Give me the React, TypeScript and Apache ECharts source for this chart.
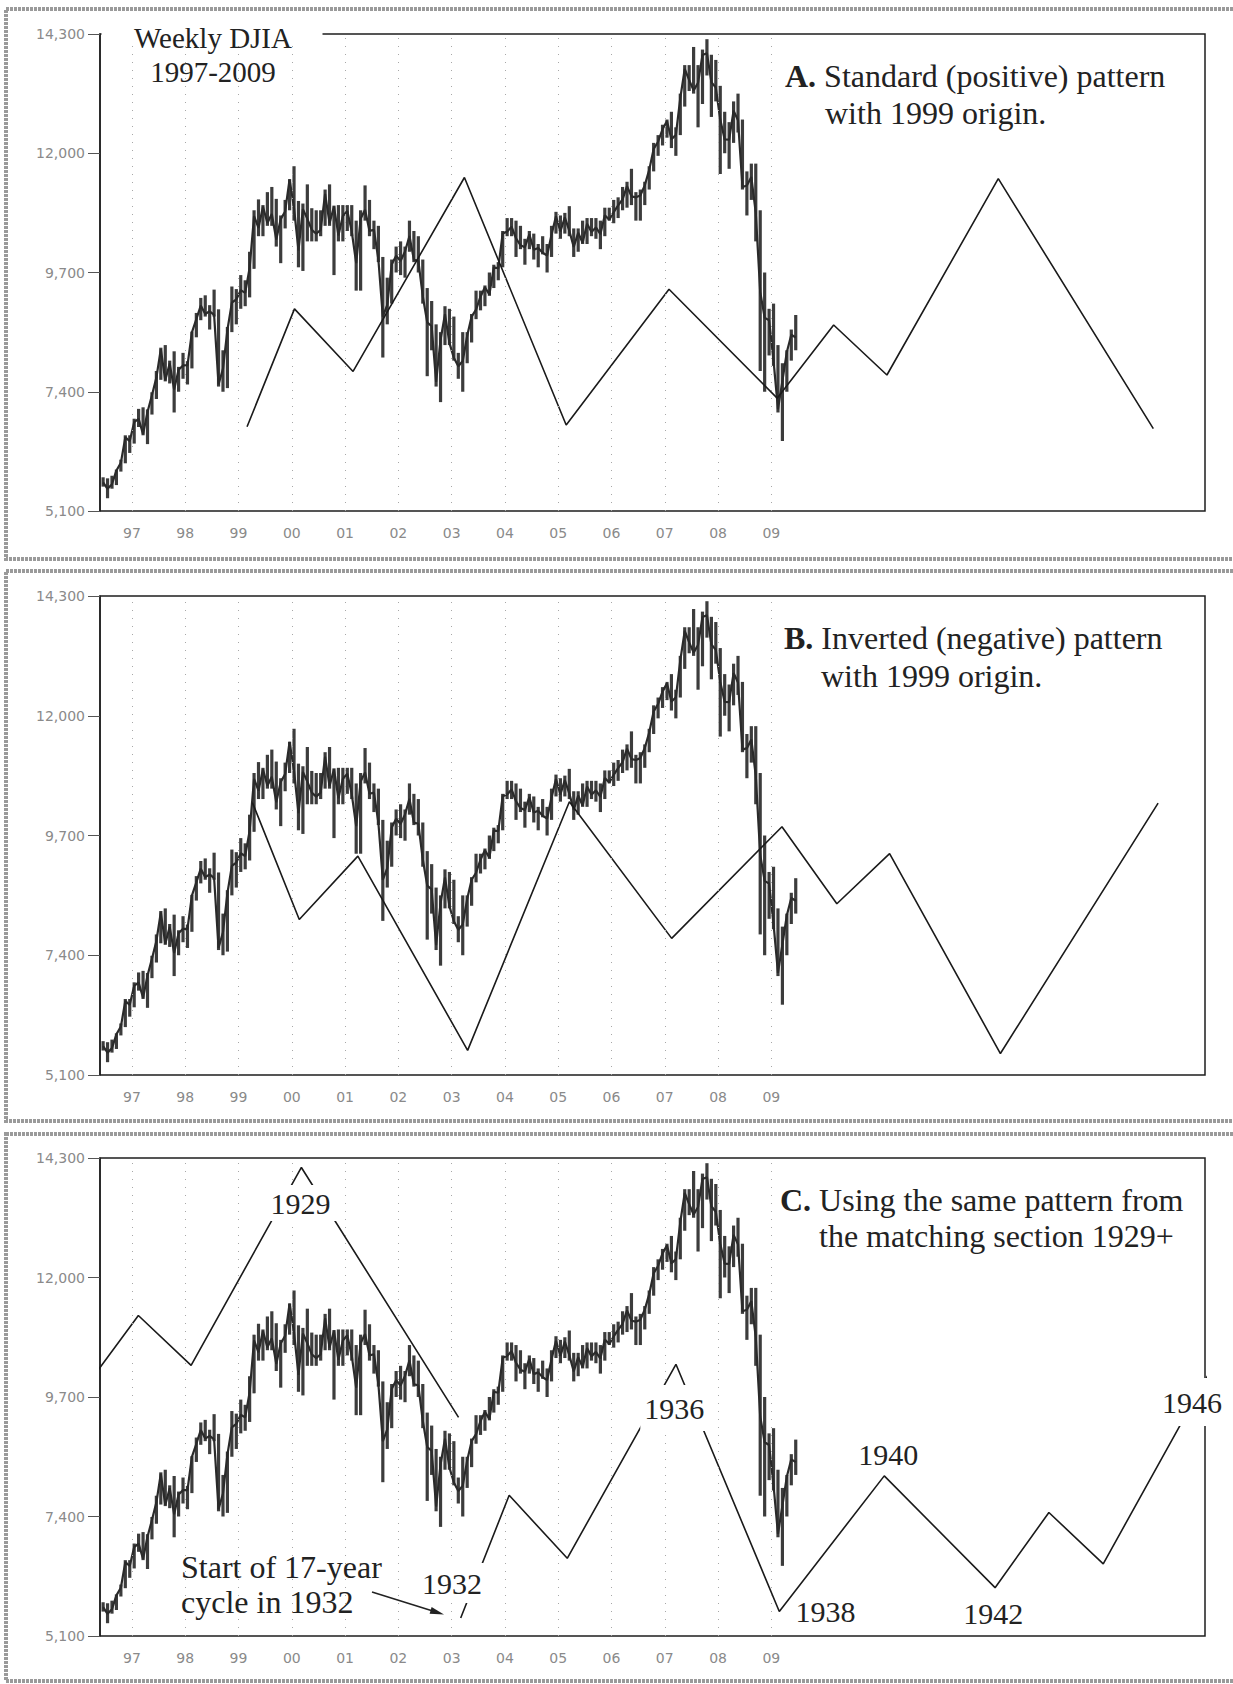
import React, { useEffect, useRef } from 'react';
import * as echarts from 'echarts';

// ---------------- DATA ----------------
const yearTicks = [1997, 1998, 1999, 2000, 2001, 2002, 2003, 2004, 2005, 2006, 2007, 2008, 2009];
const firstYear = 1996;
const firstMonth = 6; // June 1996

// Monthly DJIA low / high / close, Jun 1996 - Jun 2009
const djiaLow = [
  5570, 5346, 5530, 5600, 5860, 6020, 6220,
  6400, 6720, 6560, 6390, 6960, 7260, 7630, 7600, 7560, 7000, 7400, 7650,
  7540, 7850, 8450, 8780, 8850, 8600, 8850, 7500, 7400, 7470, 8550, 8700,
  9000, 9050, 9220, 9770, 10400, 10400, 10600, 10600, 10200, 9880, 10550, 10900,
  10700, 9800, 9730, 10300, 10300, 10300, 10400, 10600, 10600, 9650, 10300, 10300,
  10500, 10400, 9350, 9350, 10700, 10400, 10150, 9900, 8060, 8700, 9100, 9700,
  9650, 9600, 10100, 9900, 9700, 9100, 7700, 8200, 7500, 7200, 8300, 8300,
  8000, 7650, 7400, 7950, 8350, 8800, 8970, 9050, 9250, 9400, 9550, 9800,
  10400, 10400, 10000, 10150, 9850, 10150, 9950, 9800, 10050, 9700, 10000, 10450,
  10350, 10450, 10400, 10000, 10100, 10250, 10250, 10400, 10350, 10150, 10400, 10700,
  10650, 10750, 10900, 10950, 11000, 10700, 10700, 11000, 11300, 11650, 11950, 12150,
  12300, 12100, 11950, 12350, 12900, 13200, 13150, 12500, 12950, 13500, 12700, 13000,
  11600, 12000, 11700, 12200, 12400, 11300, 10800, 11100, 10300, 7800, 7400, 8100,
  7900, 7000, 6450, 7400, 8000, 8200,
];
const djiaHigh = [
  5750, 5730, 5780, 5900, 6090, 6560, 6560,
  6880, 7070, 7100, 7060, 7390, 7800, 8250, 8300, 8000, 8180, 7880, 8150,
  7990, 8560, 8920, 9210, 9260, 9070, 9370, 8990, 8200, 8650, 9430, 9380,
  9650, 9550, 10100, 10900, 11110, 11000, 11250, 11350, 11120, 10800, 11100, 11500,
  11750, 11080, 11030, 11400, 10940, 10900, 10900, 11300, 11400, 10990, 11000, 11000,
  11000, 11000, 10700, 10900, 11380, 11100, 10700, 10600, 10000, 9600, 9950, 10200,
  10300, 10200, 10700, 10500, 10400, 9950, 9400, 9150, 8700, 8550, 9050, 9000,
  8850, 8150, 8550, 8550, 8900, 9350, 9350, 9450, 9700, 9850, 9900, 10500,
  10750, 10750, 10700, 10600, 10350, 10500, 10450, 10250, 10400, 10250, 10600, 10870,
  10800, 10850, 10980, 10550, 10550, 10700, 10750, 10750, 10750, 10700, 10950, 10950,
  11100, 11150, 11350, 11450, 11700, 11250, 11300, 11450, 11750, 12200, 12350, 12550,
  12650, 12800, 12500, 13150, 13700, 13700, 14050, 13700, 14000, 14200, 13900, 13800,
  13300, 12800, 12600, 13000, 13150, 12650, 11650, 11800, 11800, 10900, 9700, 9000,
  9100, 8300, 7950, 8200, 8600, 8880,
];
const djiaClose = [
  5654, 5528, 5616, 5882, 6029, 6521, 6448,
  6813, 6877, 6583, 7009, 7331, 7673, 8222, 7622, 7945, 7442, 7823, 7908,
  7907, 8546, 8800, 9063, 8900, 8952, 8883, 7539, 7843, 8592, 9117, 9181,
  9359, 9307, 9786, 10789, 10560, 10971, 10655, 10829, 10337, 10729, 10878, 11497,
  10941, 10128, 10922, 10734, 10522, 10448, 10522, 11215, 10651, 10971, 10415, 10788,
  10887, 10495, 9879, 10735, 10912, 10502, 10523, 9950, 8848, 9075, 9852, 10022,
  9920, 10106, 10404, 9946, 9925, 9243, 8737, 8664, 7592, 8397, 8896, 8342,
  8054, 7891, 7992, 8480, 8850, 8985, 9234, 9416, 9275, 9801, 9782, 10454,
  10488, 10584, 10358, 10226, 10188, 10435, 10140, 10174, 10080, 10027, 10428, 10783,
  10490, 10766, 10504, 10193, 10467, 10275, 10641, 10482, 10569, 10440, 10806, 10718,
  10865, 10993, 11109, 11367, 11168, 11150, 11186, 11381, 11679, 12081, 12222, 12463,
  12622, 12269, 12354, 13063, 13628, 13409, 13212, 13358, 13896, 13930, 13372, 13265,
  12650, 12266, 12263, 12820, 12638, 11350, 11378, 11544, 10851, 9325, 8829, 8776,
  8001, 7063, 7609, 8168, 8500, 8447,
];

// A. Standard (positive) pattern, 1999 origin
const patternAYears = [1999.16, 2000.05, 2001.15, 2003.24, 2005.15, 2007.08, 2009.11, 2010.17, 2011.17, 2013.26, 2016.17];
const patternAValues = [6724, 8998, 7792, 11532, 6759, 9376, 7276, 8687, 7723, 11511, 6689];

// B. Inverted (negative) pattern, 1999 origin
const patternBYears = [1999.26, 2000.14, 2001.24, 2003.3, 2005.21, 2007.13, 2009.2, 2010.23, 2011.22, 2013.3, 2016.26];
const patternBValues = [10335, 8088, 9304, 5573, 10349, 7724, 9868, 8390, 9352, 5512, 10322];

// C. 1929+ pattern (two pieces: 1929 peak and post-1932 section)
const patternC1Years = [1996.04, 1997.12, 1998.11, 2000.18, 2003.13];
const patternC1Values = [9767, 11269, 10310, 14118, 9308];
const patternC2Years = [2003.17, 2004.08, 2005.17, 2007.21, 2009.15, 2011.12, 2013.2, 2014.21, 2015.23, 2017.31];
const patternC2Values = [5447, 7808, 6595, 10330, 5572, 8182, 6030, 7477, 6489, 10331];

const yMin = 5100;
const yMax = 14300;
const yStep = 2300;

// ---------------- LAYOUT / STYLE ----------------
const W = 1233;
const H = 1684;
const SERIF = '"Liberation Serif", "Times New Roman", serif';
const SANS = '"DejaVu Sans", Verdana, sans-serif';
const INK = '#1e1e1e';
const AXIS_GRAY = '#8a8a8a';
const panelTops = [34, 596, 1158];
const panelHeights = [477, 479, 478];
const frameBoxes = [
  { y: 9, h: 550 },
  { y: 571, h: 550 },
  { y: 1134, h: 547 },
];

function monthTime(i: number) {
  return firstYear + (firstMonth - 1 + i + 0.5) / 12;
}

const barData = djiaLow.map((lo, i) => [monthTime(i), lo, djiaHigh[i]]);
const closeData = djiaClose.map((c, i) => [monthTime(i), c]);
const zip = (xs: number[], ys: number[]) => xs.map((x, i) => [x, ys[i]]);

function buildOption() {
  const grid: any[] = [];
  const xAxis: any[] = [];
  const yAxis: any[] = [];
  const series: any[] = [];

  panelTops.forEach((top, i) => {
    grid.push({
      left: 100,
      top,
      width: 1105,
      height: panelHeights[i],
      show: true,
      borderColor: INK,
      borderWidth: 1.5,
      backgroundColor: 'rgba(0,0,0,0)',
    });
    xAxis.push({
      type: 'value',
      gridIndex: i,
      min: 1996.4,
      max: 2017.14,
      axisLine: { show: false },
      axisTick: { show: false },
      splitLine: { show: false },
      axisLabel: {
        customValues: yearTicks,
        formatter: (v: number) => String(Math.round(v)).slice(2),
        color: AXIS_GRAY,
        fontSize: 14,
        fontFamily: SANS,
        margin: 15,
      },
    });
    yAxis.push({
      type: 'value',
      gridIndex: i,
      min: yMin,
      max: yMax,
      interval: yStep,
      axisLine: { show: true, lineStyle: { color: INK, width: 1.5 } },
      axisTick: { show: true, length: 12, lineStyle: { color: '#555', width: 1 } },
      splitLine: { show: false },
      axisLabel: {
        color: AXIS_GRAY,
        fontSize: 14,
        fontFamily: SANS,
        margin: 15,
        formatter: (v: number) => v.toLocaleString('en-US'),
      },
    });

    // DJIA high/low bars
    series.push({
      type: 'custom',
      xAxisIndex: i,
      yAxisIndex: i,
      data: barData,
      encode: { x: 0, y: [1, 2] },
      z: 3,
      renderItem: (_p: any, api: any) => {
        const x = api.value(0);
        const a = api.coord([x, api.value(1)]);
        const b = api.coord([x, api.value(2)]);
        return {
          type: 'line',
          shape: { x1: a[0], y1: a[1], x2: b[0], y2: b[1] },
          style: { stroke: '#3c3c3c', lineWidth: 3.2 },
        };
      },
    });
    // DJIA close line (+ dotted year gridlines)
    series.push({
      type: 'line',
      xAxisIndex: i,
      yAxisIndex: i,
      data: closeData,
      symbol: 'none',
      z: 3,
      lineStyle: { color: '#2a2a2a', width: 2.2 },
      markLine: {
        silent: true,
        symbol: ['none', 'none'],
        label: { show: false },
        lineStyle: { color: '#a8a8a8', width: 1, type: [1, 7] },
        data: yearTicks.map((y) => ({ xAxis: y })),
      },
    });
  });

  const patternLine = (idx: number, data: number[][]) => ({
    type: 'line',
    xAxisIndex: idx,
    yAxisIndex: idx,
    data,
    symbol: 'none',
    clip: false,
    z: 4,
    lineStyle: { color: '#1a1a1a', width: 1.6 },
  });
  series.push(patternLine(0, zip(patternAYears, patternAValues)));
  series.push(patternLine(1, zip(patternBYears, patternBValues)));
  series.push(patternLine(2, zip(patternC1Years, patternC1Values)));
  series.push(patternLine(2, zip(patternC2Years, patternC2Values)));

  const txt = (text: string, x: number, y: number, opts: any = {}) => ({
    type: 'text',
    x,
    y,
    z: 100,
    style: {
      text,
      fontFamily: SERIF,
      fontSize: 30,
      fill: '#222',
      align: 'left',
      verticalAlign: 'middle',
      ...opts,
    },
  });
  const boldRich = { b: { fontWeight: 'bold', fontFamily: SERIF, fontSize: 32, fill: '#222' } };

  const graphic: any[] = [];
  frameBoxes.forEach((f) => {
    graphic.push({
      type: 'rect',
      z: 1,
      shape: { x: 6, y: f.y, width: 1250, height: f.h },
      style: { fill: 'none', stroke: '#9a9a9a', lineWidth: 4, lineDash: [3, 1] },
    });
  });
  // gap in top border of panel A, where the title sits
  graphic.push({ type: 'rect', z: 50, shape: { x: 101.5, y: 30, width: 221, height: 9 }, style: { fill: '#fff' } });

  graphic.push(txt('Weekly DJIA', 213, 38, { align: 'center', fontSize: 29 }));
  graphic.push(txt('1997-2009', 213, 72, { align: 'center', fontSize: 29 }));

  graphic.push(txt('{b|A.} Standard (positive) pattern', 785, 76, { rich: boldRich, fontSize: 32 }));
  graphic.push(txt('with 1999 origin.', 825, 113, { fontSize: 32 }));
  graphic.push(txt('{b|B.} Inverted (negative) pattern', 784, 638, { rich: boldRich, fontSize: 32 }));
  graphic.push(txt('with 1999 origin.', 821, 676, { fontSize: 32 }));
  graphic.push(txt('{b|C.} Using the same pattern from', 780, 1200, { rich: boldRich, fontSize: 32 }));
  graphic.push(txt('the matching section 1929+', 819, 1236, { fontSize: 32 }));

  const bg = { backgroundColor: '#fff', align: 'center' };
  graphic.push(txt('1929', 300.5, 1203, { ...bg, padding: [3, 6, 3, 6] }));
  graphic.push(txt('1932', 452, 1583, { ...bg, padding: [5, 4, 5, 4] }));
  graphic.push(txt('1936', 674.3, 1408, { ...bg, padding: [8, 4, 8, 4] }));
  graphic.push(txt('1938', 825.5, 1611, { align: 'center' }));
  graphic.push(txt('1940', 888.2, 1454, { align: 'center' }));
  graphic.push(txt('1942', 993.2, 1613, { align: 'center' }));
  graphic.push(txt('1946', 1192, 1402, { ...bg, padding: [9, 6, 9, 6] }));

  graphic.push(txt('Start of 17-year', 181, 1567, { fontSize: 32 }));
  graphic.push(txt('cycle in 1932', 181, 1602, { fontSize: 32 }));
  // arrow to 1932 start
  graphic.push({
    type: 'line',
    z: 100,
    shape: { x1: 372, y1: 1592, x2: 436, y2: 1612 },
    style: { stroke: '#222', lineWidth: 1.6 },
  });
  graphic.push({
    type: 'polygon',
    z: 100,
    shape: { points: [[444, 1614.5], [429.6, 1613.7], [431.6, 1607.1]] },
    style: { fill: '#222' },
  });

  return {
    animation: false,
    backgroundColor: '#fff',
    grid,
    xAxis,
    yAxis,
    series,
    graphic,
  };
}

export default function App() {
  const ref = useRef<HTMLDivElement | null>(null);
  useEffect(() => {
    if (!ref.current) return;
    const chart = echarts.init(ref.current, undefined, { renderer: 'svg', width: W, height: H });
    chart.setOption(buildOption() as any);
    return () => {
      chart.dispose();
    };
  }, []);
  return (
    <div
      ref={ref}
      style={{ position: 'absolute', left: 0, top: 0, width: W, height: H, background: '#fff' }}
    />
  );
}
